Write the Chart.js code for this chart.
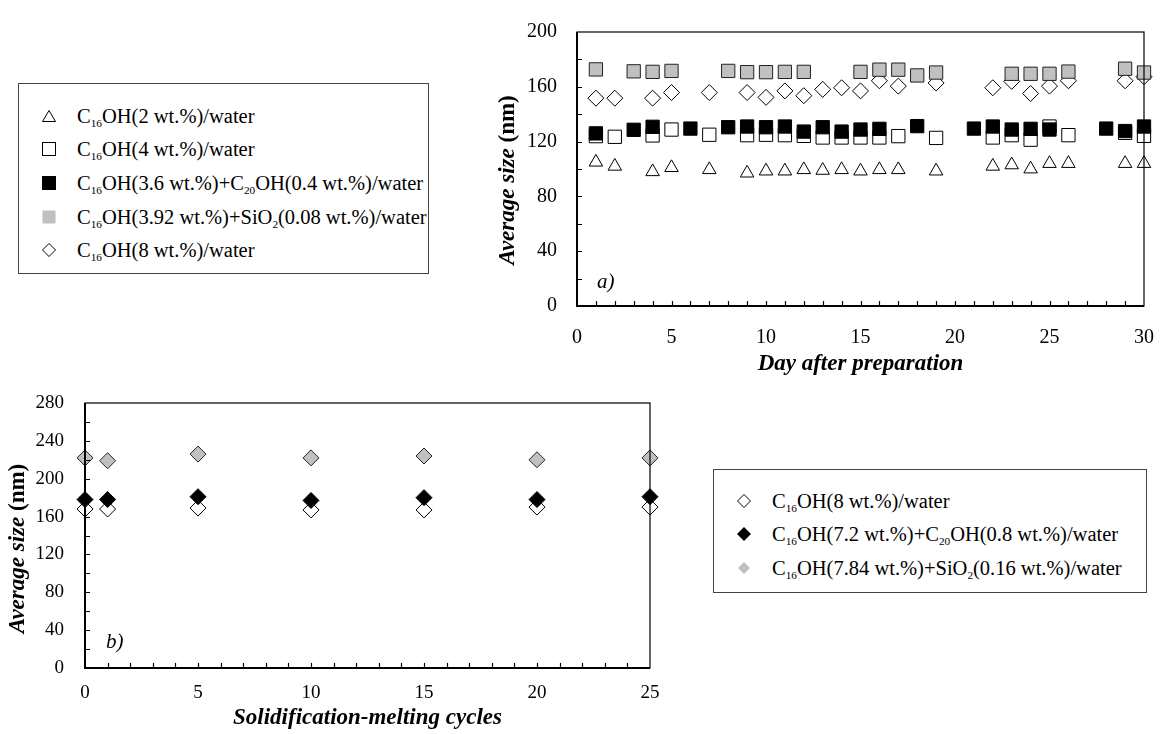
<!DOCTYPE html>
<html><head><meta charset="utf-8">
<script src="https://cdn.jsdelivr.net/npm/chart.js@4.4.1/dist/chart.umd.min.js"></script>
<style>
html,body{margin:0;padding:0;background:#fff;}
body{width:1174px;height:734px;overflow:hidden;position:relative;font-family:"Liberation Serif",serif;color:#000;}
canvas{position:absolute;left:0;top:0;}
.legend{position:absolute;border:1.5px solid #444;box-sizing:border-box;background:#fff;}
.row{position:absolute;left:0;height:26px;width:100%;font-size:20.5px;white-space:nowrap;}
.row svg{position:absolute;left:22px;top:6px;}
.row span{position:absolute;left:58px;top:0;line-height:26px;}
sub{font-size:0.55em;vertical-align:-0.35em;line-height:0;}
.pl{position:absolute;font-style:italic;font-size:21px;line-height:1;}
</style></head>
<body>
<canvas id="ca" width="1174" height="734"></canvas>
<canvas id="cb" width="1174" height="734"></canvas>

<div class="legend" style="left:18px;top:83px;width:411px;height:191px;">
  <div class="row" style="top:19px;"><svg width="16" height="14"><polygon points="8,1.5 14.5,12.5 1.5,12.5" fill="none" stroke="#000" stroke-width="1"/></svg><span>C<sub>16</sub>OH(2 wt.%)/water</span></div>
  <div class="row" style="top:52px;"><svg width="16" height="14"><rect x="1.5" y="0.5" width="13" height="13" fill="none" stroke="#000" stroke-width="1"/></svg><span>C<sub>16</sub>OH(4 wt.%)/water</span></div>
  <div class="row" style="top:86px;"><svg width="16" height="14"><rect x="1" y="0" width="14" height="14" fill="#000"/></svg><span>C<sub>16</sub>OH(3.6 wt.%)+C<sub>20</sub>OH(0.4 wt.%)/water</span></div>
  <div class="row" style="top:120px;"><svg width="16" height="14"><rect x="1.5" y="0.5" width="13" height="13" fill="#c0c0c0"/></svg><span>C<sub>16</sub>OH(3.92 wt.%)+SiO<sub>2</sub>(0.08 wt.%)/water</span></div>
  <div class="row" style="top:153px;"><svg width="16" height="14"><polygon points="8,0.5 14.5,7 8,13.5 1.5,7" fill="none" stroke="#000" stroke-width="1"/></svg><span>C<sub>16</sub>OH(8 wt.%)/water</span></div>
</div>

<div class="legend" style="left:713px;top:469px;width:434px;height:124px;">
  <div class="row" style="top:18px;"><svg width="16" height="14"><polygon points="8,0.5 14.5,7 8,13.5 1.5,7" fill="none" stroke="#000" stroke-width="1"/></svg><span>C<sub>16</sub>OH(8 wt.%)/water</span></div>
  <div class="row" style="top:51px;"><svg width="16" height="14"><polygon points="8,0 15,7 8,14 1,7" fill="#000"/></svg><span>C<sub>16</sub>OH(7.2 wt.%)+C<sub>20</sub>OH(0.8 wt.%)/water</span></div>
  <div class="row" style="top:85px;"><svg width="16" height="14"><polygon points="8,1 14,7 8,13 2,7" fill="#c0c0c0"/></svg><span>C<sub>16</sub>OH(7.84 wt.%)+SiO<sub>2</sub>(0.16 wt.%)/water</span></div>
</div>

<div class="pl" style="left:597px;top:271px;">a)</div>
<div class="pl" style="left:106px;top:631px;">b)</div>

<script>
// ---------- data: chart a) ----------
const daysA     = [1,2,4,5,7,9,10,11,12,13,14,15,16,17,19,22,23,24,25,26,29,30];
const c16_2wt   = [105,102,98,101,99.5,97,98.5,98.5,99.5,99,99.5,98.5,99.5,99.5,98.5,102,103,100,104,104,104,104];
const c16_4wt   = [124,123.5,124.5,128.8,125,124.7,125,124.7,124.2,123,123,123,123,124,122.7,123,124.7,121.4,131,124.7,126.4,124.2];
const c16_8wt   = [151.7,151.7,151.7,155.8,155.8,155.8,152.3,157,153.5,158.1,159.3,157,164.4,160.5,162.8,159.3,164,155.1,160.5,164.4,164.4,167.4];
const daysBlack = [1,3,4,6,8,9,10,11,12,13,14,15,16,18,21,22,23,24,25,28,29,30];
const c16c20_4  = [126,128.6,130.8,129.5,130.5,131,130.5,131,127.3,130.5,127.3,128.8,129.3,131.3,129.5,131,128.8,129.3,128.8,129.5,127.7,131];
const daysGray  = [1,3,4,5,8,9,10,11,12,15,16,17,18,19,23,24,25,26,29,30];
const c16sio2_4 = [172.7,171.3,170.9,171.6,171.6,170.7,170.7,170.9,170.9,170.9,172.5,172.5,168.3,170.4,169.5,169.5,169.5,171.1,173.2,170.4];
// ---------- data: chart b) ----------
const cycles     = [0,1,5,10,15,20,25];
const b_c16_8wt  = [168,168,169,167,167,170,170];
const b_c16c20   = [178,178,181,177,180,178,181];
const b_c16sio2  = [222,219,226,222,224,220,222];
// ---------- axis labels ----------
const xTitleA = 'Day after preparation';
const xTitleB = 'Solidification-melting cycles';
const yTitleParts = [['Average size ', 'italic bold'], ['(nm)', 'bold']];

const FONT = '"Liberation Serif", serif';
const pts = (xs, ys) => xs.map((x, i) => ({x, y: ys[i]}));

const framePlugin = {
  id: 'frame',
  afterDraw(chart, args, o) {
    const {ctx, chartArea: a, scales: {x, y}} = chart;
    ctx.save();
    ctx.strokeStyle = '#000';
    ctx.lineWidth = 1.2;
    ctx.beginPath();
    for (let v = x.min + o.xMinor; v < x.max - 1e-9; v += o.xMinor) {
      const px = Math.round(x.getPixelForValue(v)) + 0.5;
      ctx.moveTo(px, a.bottom); ctx.lineTo(px, a.bottom - o.tick);
    }
    for (let v = y.min + o.yMinor; v < y.max - 1e-9; v += o.yMinor) {
      const py = Math.round(y.getPixelForValue(v)) + 0.5;
      ctx.moveTo(a.left, py); ctx.lineTo(a.left + o.tick, py);
    }
    ctx.stroke();
    ctx.lineWidth = 1.2;
    ctx.strokeRect(a.left, a.top, a.right - a.left, a.bottom - a.top);
    ctx.lineWidth = 2;
    ctx.beginPath();
    ctx.moveTo(a.left, a.top); ctx.lineTo(a.left, a.bottom); ctx.lineTo(a.right, a.bottom);
    ctx.stroke();
    // rotated y title with mixed styles
    const size = o.titleSize;
    let total = 0;
    const widths = yTitleParts.map(([t, st]) => { ctx.font = st + ' ' + size + 'px ' + FONT; const w = ctx.measureText(t).width; total += w; return w; });
    const cx = a.left - o.titleDx, cy = (a.top + a.bottom) / 2 + o.titleDy;
    ctx.translate(cx, cy);
    ctx.rotate(-Math.PI / 2);
    ctx.fillStyle = '#000';
    ctx.textBaseline = 'middle';
    ctx.textAlign = 'left';
    let xx = -total / 2;
    yTitleParts.forEach(([t, st], i) => { ctx.font = st + ' ' + size + 'px ' + FONT; ctx.fillText(t, xx, 0); xx += widths[i]; });
    ctx.restore();
  }
};

function makeChart(id, datasets, cfg) {
  return new Chart(document.getElementById(id), {
    type: 'scatter',
    data: {datasets},
    plugins: [framePlugin],
    options: {
      responsive: false, animation: false, devicePixelRatio: 1,
      layout: {padding: cfg.padding},
      plugins: {legend: {display: false}, tooltip: {enabled: false}, frame: cfg.frame},
      scales: {
        x: {
          type: 'linear', min: cfg.xMin, max: cfg.xMax,
          afterFit: s => { s.height = cfg.xH; },
          grid: {display: false, drawTicks: false, tickLength: 0},
          border: {display: false},
          ticks: {stepSize: cfg.xStep, padding: cfg.xPad, color: '#000', font: {family: FONT, size: cfg.tickSize}, maxRotation: 0},
          title: {display: true, text: cfg.xTitle, color: '#000', padding: {top: 0, bottom: 2}, font: {family: FONT, size: cfg.titleSize, style: 'italic', weight: 'bold', lineHeight: 1.2}}
        },
        y: {
          type: 'linear', min: cfg.yMin, max: cfg.yMax,
          afterFit: s => { s.width = cfg.yW; },
          grid: {display: false, drawTicks: false, tickLength: 0},
          border: {display: false},
          ticks: {stepSize: cfg.yStep, padding: cfg.yPad, color: '#000', font: {family: FONT, size: cfg.tickSize}},
          title: {display: false}
        }
      }
    }
  });
}

const base = {showLine: false, clip: false, borderWidth: 1, borderColor: '#000', pointHoverRadius: 0};

makeChart('ca', [
  Object.assign({}, base, {label: 'C16OH(3.92 wt.%)+SiO2(0.08 wt.%)/water', data: pts(daysGray, c16sio2_4), pointStyle: 'rect', pointRadius: 9.4, backgroundColor: '#c0c0c0', borderColor: '#222', order: 0}),
  Object.assign({}, base, {label: 'C16OH(3.6 wt.%)+C20OH(0.4 wt.%)/water', data: pts(daysBlack, c16c20_4), pointStyle: 'rect', pointRadius: 9.4, backgroundColor: '#000', order: 1}),
  Object.assign({}, base, {label: 'C16OH(8 wt.%)/water', data: pts(daysA, c16_8wt), pointStyle: 'rectRot', pointRadius: 8, backgroundColor: '#fff', order: 2}),
  Object.assign({}, base, {label: 'C16OH(4 wt.%)/water', data: pts(daysA, c16_4wt), pointStyle: 'rect', pointRadius: 9.4, backgroundColor: '#fff', order: 3}),
  Object.assign({}, base, {label: 'C16OH(2 wt.%)/water', data: pts(daysA, c16_2wt), pointStyle: 'triangle', pointRadius: 7.8, backgroundColor: '#fff', order: 4})
], {
  padding: {left: 517, top: 22, right: 12, bottom: 734 - 306 - 74},
  xMin: 0, xMax: 30, xStep: 5, yMin: 0, yMax: 200, yStep: 40,
  xH: 74, yW: 60, xPad: 20, yPad: 20, tickSize: 20, titleSize: 23,
  xTitle: xTitleA,
  frame: {xMinor: 1, yMinor: 20, tick: 5, titleSize: 23, titleDx: 69, titleDy: 11}
});

makeChart('cb', [
  Object.assign({}, base, {label: 'C16OH(7.84 wt.%)+SiO2(0.16 wt.%)/water', data: pts(cycles, b_c16sio2), pointStyle: 'rectRot', pointRadius: 8, backgroundColor: '#c0c0c0', borderColor: '#222', order: 0}),
  Object.assign({}, base, {label: 'C16OH(7.2 wt.%)+C20OH(0.8 wt.%)/water', data: pts(cycles, b_c16c20), pointStyle: 'rectRot', pointRadius: 8, backgroundColor: '#000', order: 1}),
  Object.assign({}, base, {label: 'C16OH(8 wt.%)/water', data: pts(cycles, b_c16_8wt), pointStyle: 'rectRot', pointRadius: 8, backgroundColor: '#fff', order: 2})
], {
  padding: {left: 25, top: 403, right: 1174 - 650, bottom: 0},
  xMin: 0, xMax: 25, xStep: 5, yMin: 0, yMax: 280, yStep: 40,
  xH: 66, yW: 60, xPad: 14, yPad: 21, tickSize: 19, titleSize: 23,
  xTitle: xTitleB,
  frame: {xMinor: 1, yMinor: 20, tick: 5, titleSize: 23, titleDx: 67, titleDy: 13}
});
</script>
</body></html>
